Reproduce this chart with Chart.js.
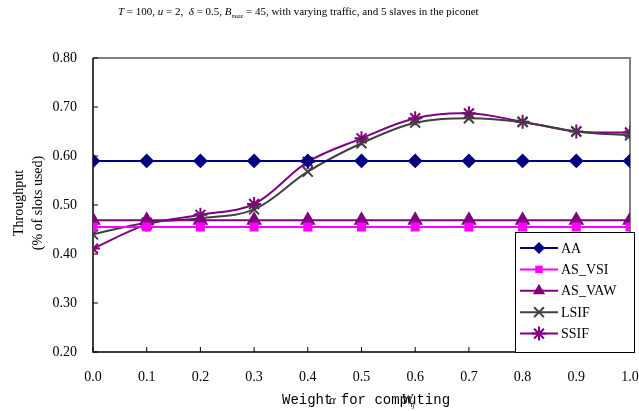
<!DOCTYPE html>
<html><head><meta charset="utf-8">
<script src="https://cdn.jsdelivr.net/npm/chart.js@4.4.1/dist/chart.umd.min.js"></script>
<style>html,body{margin:0;padding:0;background:#fff;}#wrap{width:639px;height:411px;}</style>
</head><body><div id="wrap"><canvas id="c" width="639" height="411"></canvas></div>
<script>
const xValues = [0.0,0.1,0.2,0.3,0.4,0.5,0.6,0.7,0.8,0.9,1.0];
const seriesNames = ['AA','AS_VSI','AS_VAW','LSIF','SSIF'];
const AA     = [0.59,0.59,0.59,0.59,0.59,0.59,0.59,0.59,0.59,0.59,0.59];
const AS_VSI = [0.455,0.455,0.455,0.455,0.455,0.455,0.455,0.455,0.455,0.455,0.455];
const AS_VAW = [0.469,0.469,0.469,0.469,0.469,0.469,0.469,0.469,0.469,0.469,0.469];
const LSIF   = [0.440,0.464,0.473,0.491,0.568,0.626,0.668,0.677,0.669,0.650,0.642];
const SSIF   = [0.411,0.460,0.480,0.502,0.588,0.636,0.677,0.687,0.670,0.650,0.648];
const yTicks = [0.20,0.30,0.40,0.50,0.60,0.70,0.80];
const xTicks = [0.0,0.1,0.2,0.3,0.4,0.5,0.6,0.7,0.8,0.9,1.0];

const pts = arr => arr.map((v,i)=>({x:xValues[i], y:v}));
const serif = '"Liberation Serif","Times New Roman",serif';
const mono = '"Liberation Mono","Courier New",monospace';

const datasets = [
 {label:seriesNames[0], data:pts(AA), borderColor:'#000080', backgroundColor:'#000080', pointStyle:'rectRot', pointRadius:6, borderWidth:2, tension:0},
 {label:seriesNames[1], data:pts(AS_VSI), borderColor:'#FF00FF', backgroundColor:'#FF00FF', pointStyle:'rect', pointRadius:5, borderWidth:2, tension:0},
 {label:seriesNames[2], data:pts(AS_VAW), borderColor:'#800080', backgroundColor:'#800080', pointStyle:'triangle', pointRadius:7, borderWidth:2, tension:0},
 {label:seriesNames[3], data:pts(LSIF), borderColor:'#404040', backgroundColor:'#404040', pointStyle:'crossRot', pointRadius:7, pointBorderWidth:2, borderWidth:2, tension:0.35},
 {label:seriesNames[4], data:pts(SSIF), borderColor:'#800080', backgroundColor:'#800080', pointStyle:'star', pointRadius:7, pointBorderWidth:2, borderWidth:2, tension:0.35}
];

function drawMarker(ctx, style, r, x, y, color, bw){
  ctx.save();
  ctx.fillStyle=color; ctx.strokeStyle=color; ctx.lineWidth=bw;
  ctx.beginPath();
  if(style==='rectRot'){ctx.moveTo(x,y-r);ctx.lineTo(x+r,y);ctx.lineTo(x,y+r);ctx.lineTo(x-r,y);ctx.closePath();ctx.fill();}
  else if(style==='rect'){const s=r*0.75;ctx.rect(x-s,y-s,2*s,2*s);ctx.fill();}
  else if(style==='triangle'){ctx.moveTo(x,y-r);ctx.lineTo(x+r*0.87,y+r*0.5);ctx.lineTo(x-r*0.87,y+r*0.5);ctx.closePath();ctx.fill();}
  else if(style==='crossRot'){const s=r*0.7;ctx.moveTo(x-s,y-s);ctx.lineTo(x+s,y+s);ctx.moveTo(x+s,y-s);ctx.lineTo(x-s,y+s);ctx.stroke();}
  else if(style==='star'){const s=r*0.7;ctx.moveTo(x-s,y-s);ctx.lineTo(x+s,y+s);ctx.moveTo(x+s,y-s);ctx.lineTo(x-s,y+s);ctx.moveTo(x,y-r);ctx.lineTo(x,y+r);ctx.moveTo(x-r,y);ctx.lineTo(x+r,y);ctx.stroke();}
  ctx.restore();
}

const decor = {
  id:'decor',
  beforeDatasetsDraw(chart){
    const {ctx, chartArea:a} = chart;
    ctx.save();
    ctx.strokeStyle='#808080'; ctx.lineWidth=2;
    ctx.beginPath(); ctx.moveTo(a.left,a.top); ctx.lineTo(a.right,a.top); ctx.lineTo(a.right,a.bottom); ctx.stroke();
    ctx.strokeStyle='#000'; ctx.lineWidth=1.5;
    ctx.beginPath(); ctx.moveTo(a.left,a.top); ctx.lineTo(a.left,a.bottom); ctx.lineTo(a.right,a.bottom); ctx.stroke();
    ctx.lineWidth=1;
    const ys=chart.scales.y, xs=chart.scales.x;
    yTicks.forEach(v=>{const py=ys.getPixelForValue(v);ctx.beginPath();ctx.moveTo(a.left,py);ctx.lineTo(a.left+5,py);ctx.stroke();});
    xTicks.forEach(v=>{const px=xs.getPixelForValue(v);ctx.beginPath();ctx.moveTo(px,a.bottom);ctx.lineTo(px,a.bottom-5);ctx.stroke();});
    ctx.restore();
  },
  afterDraw(chart){
    const {ctx} = chart;
    ctx.save();
    const segs=[['T','italic'],[' = 100, ',''],['u','italic'],[' = 2,  ',''],['\u03B4','italic'],[' = 0.5, ',''],['B','italic'],['max','sub'],[' = 45, with varying traffic, and 5 slaves in the piconet','']];
    let x=118; const by=15;
    ctx.fillStyle='#000'; ctx.textBaseline='alphabetic'; ctx.textAlign='left';
    segs.forEach(([t,s])=>{
      if(s==='sub'){ctx.font='italic 7px '+serif; ctx.fillText(t,x,by+3);}
      else {ctx.font=(s?s+' ':'')+'11px '+serif; ctx.fillText(t,x,by);}
      x+=ctx.measureText(t).width;
    });
    ctx.save();
    ctx.translate(19,203); ctx.rotate(-Math.PI/2);
    ctx.font='14px '+serif; ctx.textAlign='center'; ctx.textBaseline='middle';
    ctx.fillText('Throughput',0,0);
    ctx.fillText('(% of slots used)',0,19);
    ctx.restore();
    ctx.font='14px '+mono; ctx.textAlign='left'; ctx.textBaseline='middle';
    const base='Weight for computing';
    const x0=282, cw=ctx.measureText('M').width;
    ctx.fillText(base,x0,400);
    ctx.font='italic 13px '+serif;
    ctx.fillText('\u03B1',x0+cw*5.6,401);
    ctx.font='italic 14px '+serif;
    ctx.fillText('W',x0+cw*14.2,400);
    ctx.font='italic 8px '+serif;
    ctx.fillText('ij',x0+cw*15.3,405);
    const lx=515, ly=232, lw=119, lh=120;
    ctx.fillStyle='#fff'; ctx.fillRect(lx,ly,lw,lh);
    ctx.strokeStyle='#000'; ctx.lineWidth=1; ctx.strokeRect(lx+0.5,ly+0.5,lw,lh);
    chart.data.datasets.forEach((d,i)=>{
      const yy=248+i*21.4;
      ctx.strokeStyle=d.borderColor; ctx.lineWidth=2;
      ctx.beginPath(); ctx.moveTo(520,yy); ctx.lineTo(558,yy); ctx.stroke();
      drawMarker(ctx,d.pointStyle,d.pointRadius,539,yy,d.borderColor,2);
      ctx.fillStyle='#000'; ctx.font='14px '+serif; ctx.textAlign='left'; ctx.textBaseline='middle';
      ctx.fillText(d.label,561,yy+1);
    });
    ctx.restore();
  }
};

new Chart(document.getElementById('c'), {
  type:'line',
  data:{datasets},
  options:{
    responsive:false, animation:false, devicePixelRatio:1,
    layout:{padding:{left:0,right:8,top:58,bottom:0}},
    plugins:{legend:{display:false}, title:{display:false}, tooltip:{enabled:false}},
    scales:{
      x:{type:'linear', min:0, max:1,
        afterBuildTicks(s){s.ticks=xTicks.map(v=>({value:v}));},
        afterFit(s){s.height=59; s.paddingLeft=0; s.paddingRight=0;},
        grid:{display:false}, border:{display:false},
        ticks:{padding:9, color:'#000', font:{family:serif,size:14}, callback:v=>v.toFixed(1), maxRotation:0, autoSkip:false}},
      y:{min:0.2, max:0.8,
        afterBuildTicks(s){s.ticks=yTicks.map(v=>({value:v}));},
        afterFit(s){s.width=93; s.paddingTop=0; s.paddingBottom=0;},
        grid:{display:false}, border:{display:false},
        ticks:{padding:8, color:'#000', font:{family:serif,size:14}, callback:v=>v.toFixed(2)}}
    }
  },
  plugins:[decor]
});
</script></body></html>
